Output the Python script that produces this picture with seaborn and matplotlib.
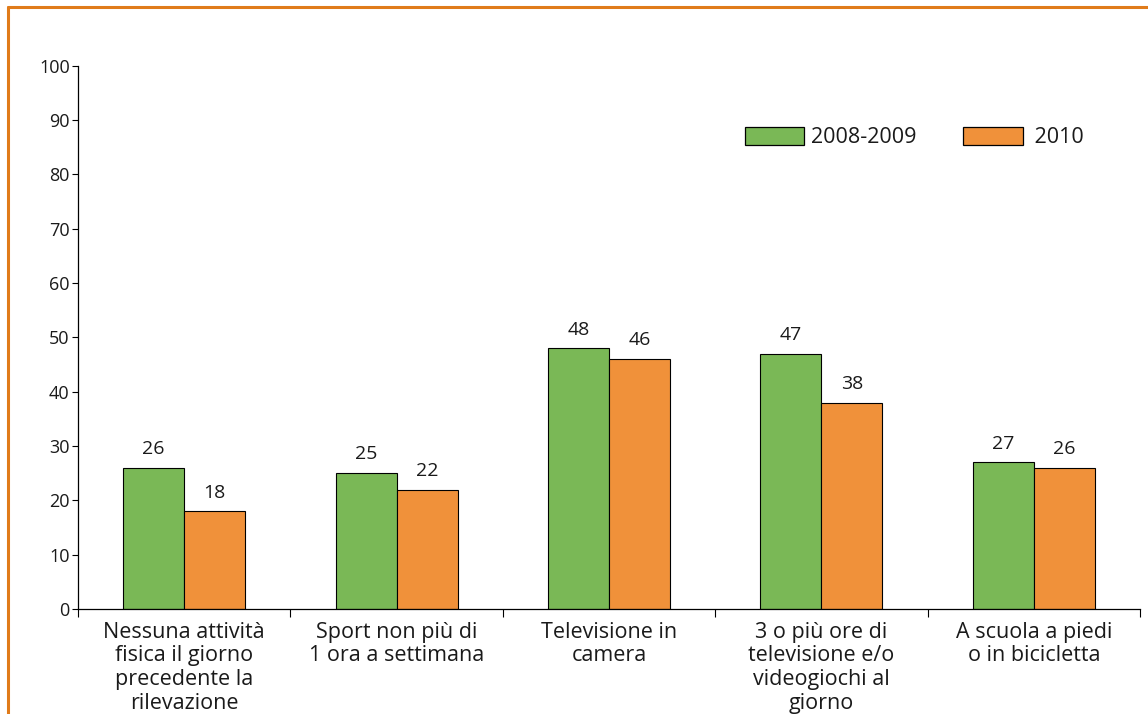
import matplotlib
matplotlib.use('Agg')
import matplotlib.pyplot as plt
import seaborn as sns
import pandas as pd
from matplotlib.lines import Line2D

# Data
categories = ['Nessuna attività\nfisica il giorno\nprecedente la\nrilevazione',
              'Sport non più di\n1 ora a settimana',
              'Televisione in\ncamera',
              '3 o più ore di\ntelevisione e/o\nvideogiochi al\ngiorno',
              'A scuola a piedi\no in bicicletta']
years = ['2008-2009', '2010']
values_0809 = [26, 25, 48, 47, 27]
values_2010 = [18, 22, 46, 38, 26]

df = pd.DataFrame({
    'Categoria': categories * 2,
    'Anno': [years[0]] * 5 + [years[1]] * 5,
    'Valore': values_0809 + values_2010,
})

sns.set_style('ticks')
plt.rcParams['font.family'] = ['Open Sans', 'DejaVu Sans']
plt.rcParams['text.color'] = '#1a1a1a'
plt.rcParams['xtick.color'] = 'black'
plt.rcParams['ytick.color'] = 'black'
plt.rcParams['xtick.labelcolor'] = '#1a1a1a'
plt.rcParams['ytick.labelcolor'] = '#1a1a1a'

fig = plt.figure(figsize=(11.48, 7.14), dpi=100)
ax = fig.add_axes([0.068, 0.147, 0.925, 0.761])

sns.barplot(data=df, x='Categoria', y='Valore', hue='Anno',
            palette=['#7AB856', '#F0913A'], saturation=1, width=0.575, gap=0,
            edgecolor='black', linewidth=0.8, ax=ax)

for cont in ax.containers:
    ax.bar_label(cont, fmt='%g', padding=7, fontsize=14)

ax.set_ylim(0, 100)
ax.set_xlim(-0.5, 4.5)
ax.set_yticks(range(0, 101, 10))
ax.set_xlabel('')
ax.set_ylabel('')
ax.tick_params(axis='y', direction='out', length=4, width=0.8, labelsize=13, pad=2, left=True)
ax.tick_params(axis='x', which='major', length=0, labelsize=15.5, pad=9)
ax.set_xticks([i + 0.5 for i in range(-1, 5)], minor=True)
ax.tick_params(axis='x', which='minor', direction='out', length=6, width=0.8, bottom=True)
for lab in ax.get_xticklabels():
    lab.set_linespacing(1.17)

for s in ['top', 'right']:
    ax.spines[s].set_visible(False)
ax.spines['left'].set_linewidth(0.9)
ax.spines['bottom'].set_linewidth(0.9)
ax.spines['left'].set_color('black')
ax.spines['bottom'].set_color('black')

leg = ax.legend(loc='center left', bbox_to_anchor=(0.628, 0.867), ncol=2,
                frameon=False, fontsize=15.5, handlelength=2.75, handleheight=0.85,
                columnspacing=2.2, handletextpad=0.3, borderpad=0, borderaxespad=0)
for p in leg.get_patches():
    p.set_linewidth(0.9)
# the second label sits a bit further from its box
leg.get_texts()[1].set_text(' 2010')

# orange frame (top and left)
fig.add_artist(Line2D([0.007, 1.0], [0.990, 0.990], transform=fig.transFigure,
                      color='#E07B1A', linewidth=2.2))
fig.add_artist(Line2D([0.007, 0.007], [0.0, 0.990], transform=fig.transFigure,
                      color='#E07B1A', linewidth=2.2))

fig.savefig('out.png', dpi=100)
